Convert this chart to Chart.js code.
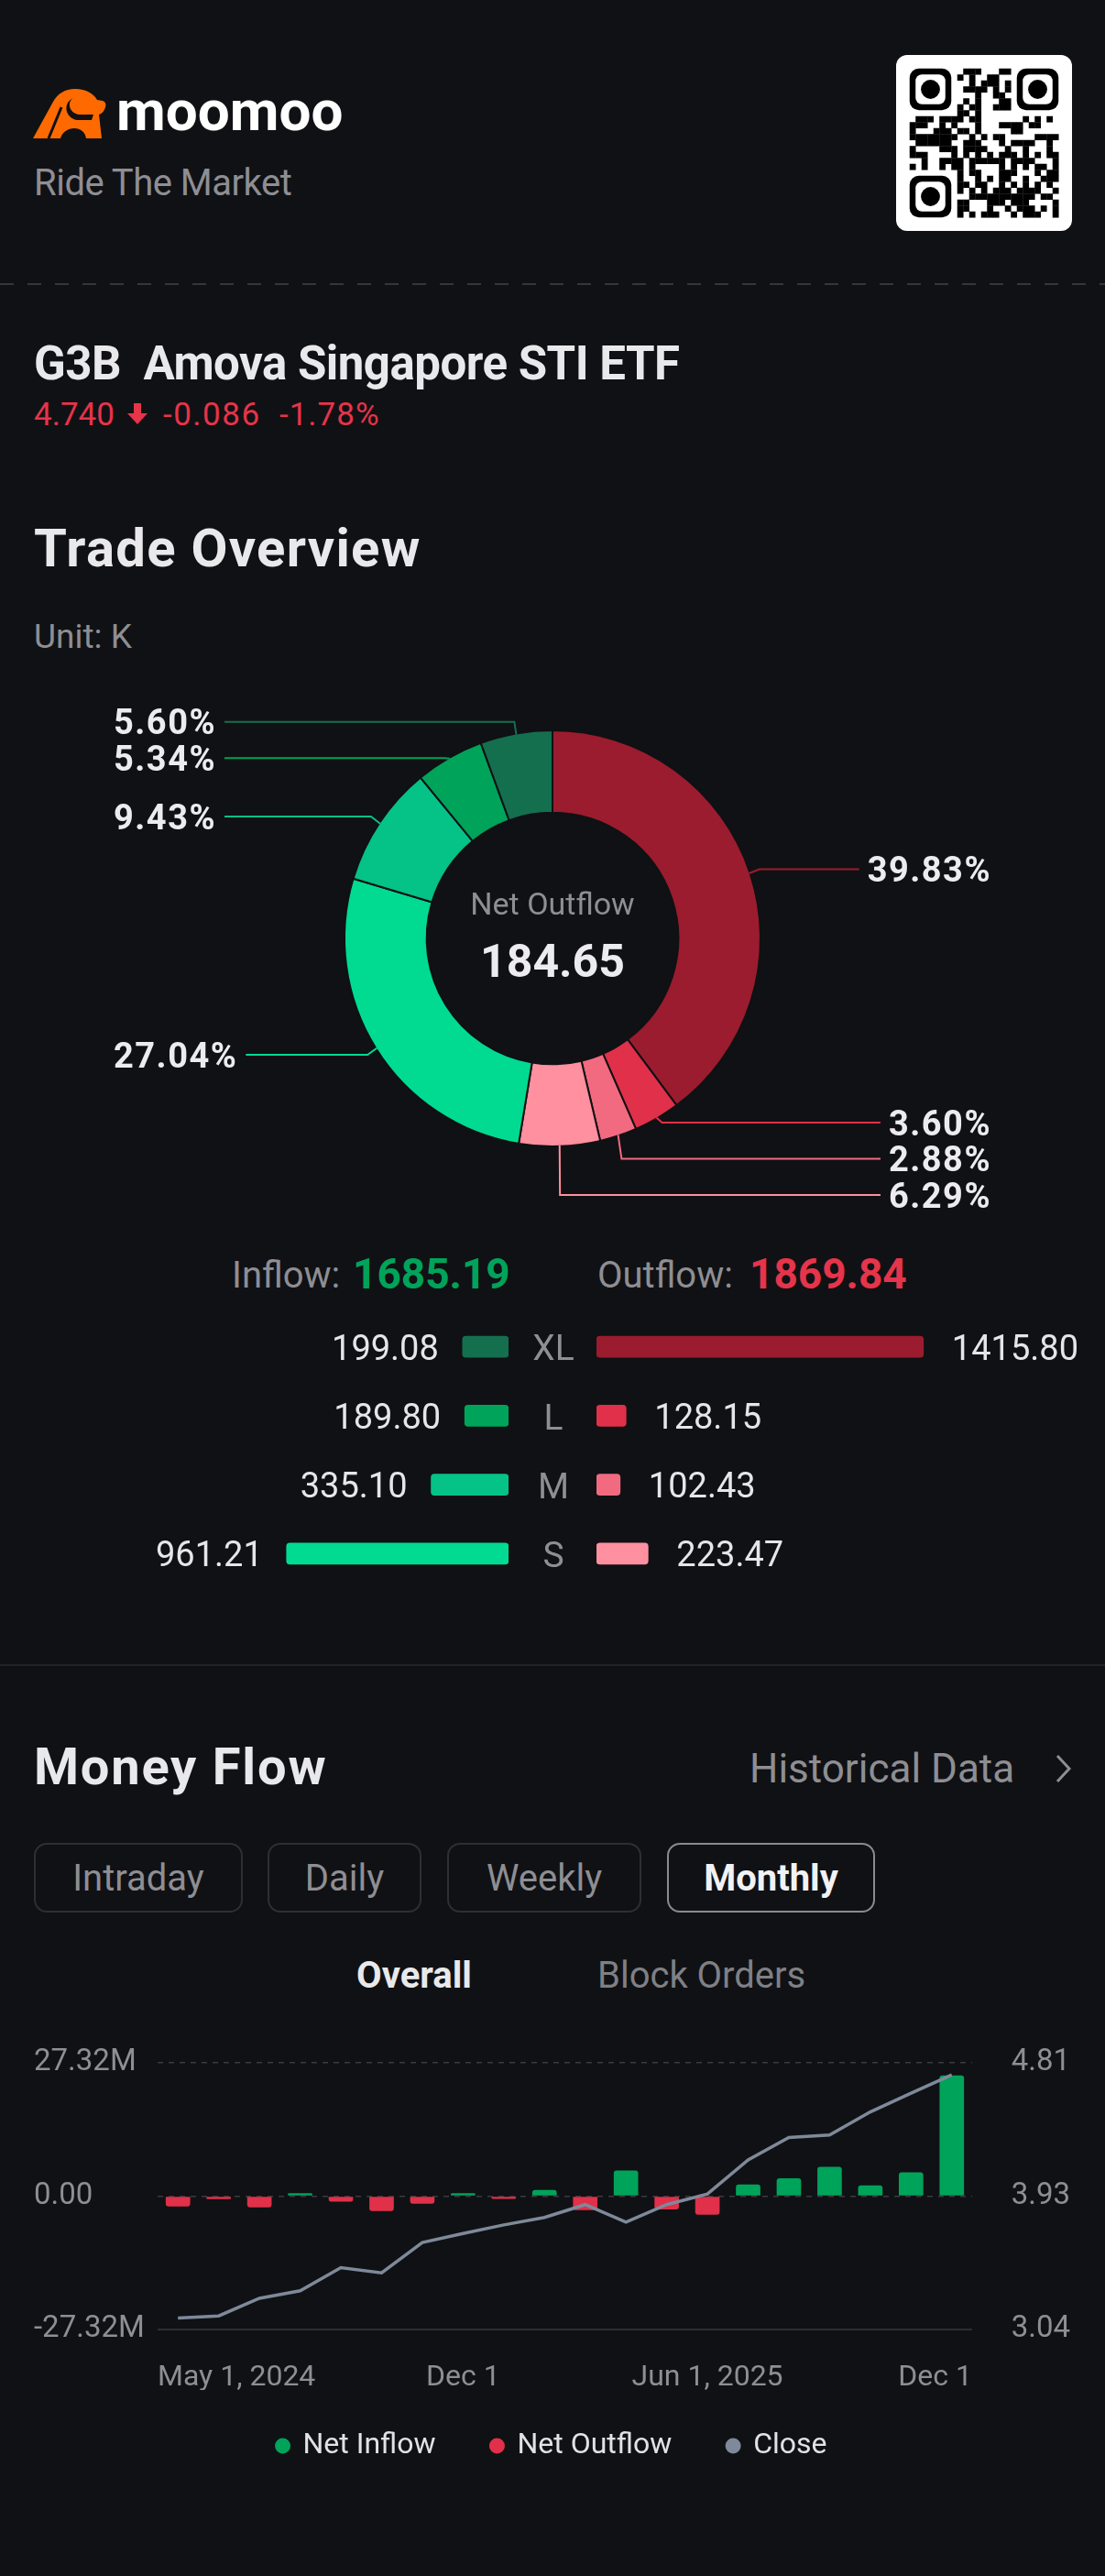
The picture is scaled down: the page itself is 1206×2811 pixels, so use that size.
<!DOCTYPE html>
<html lang="en">
<head>
<meta charset="UTF-8">
<title>G3B Trade Overview</title>
<script src="https://cdn.jsdelivr.net/npm/chart.js"></script>
<style>
  body { margin: 0; background: #101114; font-family: Roboto, Arial, sans-serif; }
  .page { position: relative; width: 1206px; height: 2811px; overflow: hidden; }
  .t { position: absolute; line-height: 1; white-space: pre; }
  .gray { color: #8e8e93; }
  .white { color: #e9e9eb; }
  .red { color: #e6344a; }
  .green { color: #00a35a; }
  .bold { font-weight: 700; }
  .dash { position: absolute; left: 0; top: 309px; width: 1206px; height: 2px;
          background: repeating-linear-gradient(90deg, #35363a 0 15px, transparent 15px 30px); }
  .rule { position: absolute; left: 0; top: 1816px; width: 1206px; height: 2px; background: #222327; }
  .tab { position: absolute; top: 2011px; height: 76px; box-sizing: border-box; border: 2px solid #2e2f33;
         border-radius: 14px; display: flex; align-items: center; justify-content: center;
         font-size: 40px; color: #8e8e93; }
  .tab.on { border-color: #8a8b90; color: #f2f2f4; font-weight: 700; }
  canvas { position: absolute; }
</style>
</head>
<body>
<div class="page">
  <!-- header -->
  <svg style="position:absolute;left:36px;top:97px" width="81" height="54" viewBox="0 0 81 54">
    <path d="M0 54 L22 14 C27 5 35 0 46 0 C58 0 66 5 70 12 L76 13 C79 14 80 17 79 20 C78 24 75 27 72 28 L75 54 L58 54 C57 47 52 43 45 43 C38 43 32 47 30 54 Z" fill="#ff6a00"/>
    <path d="M17 54 L31 20" stroke="#101114" stroke-width="3"/>
    <path d="M44 10 C37 14 39 26 50 28 L66 28 L64 34 L48 34 C35 32 32 15 44 10 Z" fill="#101114"/>
  </svg>
  <div class="t bold" style="left:127px;top:90px;font-size:62px;color:#fff">moomoo</div>
  <div class="t gray" style="left:37px;top:179.6px;font-size:40px;letter-spacing:-0.5px">Ride The Market</div>
  <canvas id="qr" width="192" height="192" style="left:978px;top:60px"></canvas>
  <div class="dash"></div>

  <div class="t white bold" style="left:37px;top:371px;font-size:51px;letter-spacing:-0.5px">G3B  Amova Singapore STI ETF</div>
  <div class="t red" style="left:37px;top:434.5px;font-size:35px">4.740</div>
  <svg style="position:absolute;left:138px;top:440px" width="24" height="24" viewBox="0 0 24 24">
    <path d="M8 0H16V11H23L12 23L1 11H8Z" fill="#e6344a"/>
  </svg>
  <div class="t red" style="left:178px;top:434.5px;font-size:35px;letter-spacing:1.5px">-0.086</div>
  <div class="t red" style="left:305px;top:434.5px;font-size:35px;letter-spacing:1px">-1.78%</div>

  <!-- trade overview -->
  <div class="t white bold" style="left:37px;top:569.2px;font-size:58px;letter-spacing:1.3px">Trade Overview</div>
  <div class="t gray" style="left:37px;top:675.8px;font-size:37px">Unit: K</div>
  <canvas id="donut" width="1206" height="600" style="left:0;top:724px"></canvas>

  <div class="t gray" style="left:253px;top:1372.3px;font-size:40px">Inflow:</div>
  <div class="t green bold" style="left:385px;top:1367.3px;font-size:46px" id="inTotal"></div>
  <div class="t gray" style="left:652px;top:1372.3px;font-size:40px">Outflow:</div>
  <div class="t red bold" style="left:818px;top:1367.3px;font-size:46px" id="outTotal"></div>

  <canvas id="inBars" width="555" height="301" style="left:0;top:1432.4px"></canvas>
  <canvas id="outBars" width="555" height="301" style="left:651px;top:1432.4px"></canvas>
  <div id="rowLabels"></div>

  <div class="rule"></div>

  <!-- money flow -->
  <div class="t white bold" style="left:37px;top:1899.5px;font-size:56px;letter-spacing:1.8px">Money Flow</div>
  <div class="t gray" style="left:818px;top:1908px;font-size:44px">Historical Data</div>
  <svg style="position:absolute;left:1150px;top:1913px" width="20" height="34" viewBox="0 0 20 34">
    <polyline points="4,3 17,17 4,31" fill="none" stroke="#8e8e93" stroke-width="3"/>
  </svg>

  <div class="tab" style="left:37px;width:228px">Intraday</div>
  <div class="tab" style="left:292px;width:168px">Daily</div>
  <div class="tab" style="left:488px;width:212px">Weekly</div>
  <div class="tab on" style="left:728px;width:227px">Monthly</div>

  <div class="t white bold" style="left:352px;width:200px;text-align:center;top:2136.3px;font-size:40px">Overall</div>
  <div class="t" style="left:652px;width:200px;text-align:center;top:2136.3px;font-size:40px;color:#7f8085">Block Orders</div>

  <canvas id="flow" width="1206" height="475" style="left:0;top:2220px"></canvas>
</div>

<script>
  // trade overview (K)
  const sizes = ['XL', 'L', 'M', 'S'];
  const inflow = [199.08, 189.80, 335.10, 961.21];
  const outflow = [1415.80, 128.15, 102.43, 223.47];
  const inflowTotal = 1685.19;
  const outflowTotal = 1869.84;
  const inflowColors = ['#146f4e', '#00a35a', '#05c287', '#00db91'];
  const outflowColors = ['#9b1c2e', '#e0304a', '#f26a80', '#ff909f'];

  // money flow, monthly
  const months = ['May 2024', 'Jun 2024', 'Jul 2024', 'Aug 2024', 'Sep 2024', 'Oct 2024', 'Nov 2024', 'Dec 2024',
                  'Jan 2025', 'Feb 2025', 'Mar 2025', 'Apr 2025', 'May 2025', 'Jun 2025', 'Jul 2025', 'Aug 2025',
                  'Sep 2025', 'Oct 2025', 'Nov 2025', 'Dec 2025'];
  const netFlow = [-2.11, -0.62, -2.29, 0.61, -1.12, -3.04, -1.55, 0.61, -0.56, 1.29,
                   -2.85, 5.25, -2.73, -3.78, 2.41, 3.64, 5.99, 2.22, 4.88, 24.73];
  const closePrice = [3.116, 3.130, 3.247, 3.297, 3.450, 3.416, 3.617, 3.677, 3.734, 3.784,
                      3.869, 3.752, 3.869, 3.939, 4.166, 4.315, 4.331, 4.484, 4.609, 4.730];
  const xTickValues = [-0.5, 7, 13, 19.5];
  const xTickLabels = ['May 1, 2024', 'Dec 1', 'Jun 1, 2025', 'Dec 1'];
  const leftTicks = [-27.32, 0, 27.32];
  const leftTickLabels = ['-27.32M', '0.00', '27.32M'];
  const rightTicks = [3.04, 3.925, 4.81];
  const rightTickLabels = ['3.04', '3.93', '4.81'];

  const BG = '#101114';
  Chart.defaults.font.family = 'Roboto, Arial, sans-serif';

  document.getElementById('inTotal').textContent = inflowTotal.toFixed(2);
  document.getElementById('outTotal').textContent = outflowTotal.toFixed(2);
  document.getElementById('rowLabels').innerHTML = sizes.map((s, i) =>
    `<div class="t gray" style="left:554px;width:100px;text-align:center;font-size:39px;top:${1452.2 + i * 75.3}px">${s}</div>`
  ).join('');

  // fake qr code, just decoration
  (function drawQr() {
    const g = document.getElementById('qr').getContext('2d');
    g.fillStyle = '#fff';
    g.beginPath(); g.roundRect(0, 0, 192, 192, 12); g.fill();
    const n = 25, s = 6.5, o = 14.75;
    const finder = (r, c) => (r < 8 && c < 8) || (r < 8 && c > 16) || (r > 16 && c < 8);
    g.fillStyle = '#000';
    for (let r = 0; r < n; r++) {
      for (let c = 0; c < n; c++) {
        if (finder(r, c)) continue;
        const h = Math.sin(r * 12.9898 + c * 78.233) * 43758.5453;
        if (h - Math.floor(h) > 0.5) g.fillRect(o + c * s, o + r * s, s + 0.3, s + 0.3);
      }
    }
    [[0, 0], [0, 18], [18, 0]].forEach(([r, c]) => {
      const x = o + c * s, y = o + r * s;
      g.fillStyle = '#000'; g.beginPath(); g.roundRect(x, y, 7 * s, 7 * s, 10); g.fill();
      g.fillStyle = '#fff'; g.beginPath(); g.roundRect(x + s, y + s, 5 * s, 5 * s, 7); g.fill();
      g.fillStyle = '#000'; g.beginPath(); g.arc(x + 3.5 * s, y + 3.5 * s, 1.6 * s, 0, Math.PI * 2); g.fill();
    });
  })();

  // ---- donut ----
  const sliceValues = outflow.concat(inflow.slice().reverse());
  const sliceColors = outflowColors.concat(inflowColors.slice().reverse());
  const grandTotal = inflowTotal + outflowTotal;

  function spread(items, gap, lo, hi) {
    items.sort((a, b) => a.y - b.y);
    for (let i = 1; i < items.length; i++) {
      if (items[i].y < items[i - 1].y + gap) items[i].y = items[i - 1].y + gap;
    }
    const n = items.length;
    if (n && items[n - 1].y > hi) {
      items[n - 1].y = hi;
      for (let i = n - 2; i >= 0; i--) {
        if (items[i].y > items[i + 1].y - gap) items[i].y = items[i + 1].y - gap;
      }
    }
    if (n && items[0].y < lo) {
      items[0].y = lo;
      for (let i = 1; i < n; i++) {
        if (items[i].y < items[i - 1].y + gap) items[i].y = items[i - 1].y + gap;
      }
    }
  }

  const leaderLabels = {
    id: 'leaderLabels',
    afterDatasetsDraw(chart, args, opts) {
      const ctx = chart.ctx;
      const arcs = chart.getDatasetMeta(0).data;
      let cx = 0, cy = 0;
      const items = arcs.map((arc, i) => {
        const p = arc.getProps(['x', 'y', 'startAngle', 'endAngle', 'outerRadius']);
        const mid = (p.startAngle + p.endAngle) / 2;
        const r = p.outerRadius - 1;
        cx = p.x; cy = p.y;
        return {
          i, mid,
          px: p.x + Math.cos(mid) * r,
          py: p.y + Math.sin(mid) * r,
          y: p.y + Math.sin(mid) * (r + opts.reach),
          right: Math.cos(mid) >= 0,
          text: (sliceValues[i] / grandTotal * 100).toFixed(2) + '%'
        };
      });
      const right = items.filter(it => it.right), left = items.filter(it => !it.right);
      spread(right, opts.gap, cy - opts.limit, cy + opts.limit);
      spread(left, opts.gap, cy - opts.limit, cy + opts.limit);

      ctx.save();
      ctx.font = 'bold 38px Roboto, Arial, sans-serif';
      ctx.letterSpacing = '1.5px';
      ctx.lineWidth = 2;
      items.forEach(it => {
        const w = ctx.measureText(it.text).width;
        const sign = it.right ? 1 : -1;
        const ex = it.px + sign * opts.elbow * Math.abs(Math.cos(it.mid));
        const endX = it.right ? opts.rightX - w - opts.textGap : opts.leftX + w + opts.textGap;
        ctx.strokeStyle = sliceColors[it.i];
        ctx.beginPath();
        ctx.moveTo(it.px, it.py);
        ctx.lineTo(ex, it.y);
        ctx.lineTo(endX, it.y);
        ctx.stroke();
        ctx.fillStyle = '#ececee';
        ctx.textAlign = it.right ? 'right' : 'left';
        ctx.textBaseline = 'alphabetic';
        ctx.fillText(it.text, it.right ? opts.rightX : opts.leftX, it.y + 13.5);
      });
      ctx.letterSpacing = '0px';

      // centre text
      ctx.textAlign = 'center';
      ctx.fillStyle = '#8e8e93';
      ctx.font = '34px Roboto, Arial, sans-serif';
      ctx.fillText('Net Outflow', cx, cy - 26);
      ctx.fillStyle = '#ececee';
      ctx.font = 'bold 50px Roboto, Arial, sans-serif';
      ctx.fillText((outflowTotal - inflowTotal).toFixed(2), cx, cy + 42);
      ctx.restore();
    }
  };

  new Chart(document.getElementById('donut'), {
    type: 'doughnut',
    data: {
      labels: sizes.map(s => s + ' out').concat(sizes.slice().reverse().map(s => s + ' in')),
      datasets: [{ data: sliceValues, backgroundColor: sliceColors, borderColor: BG, borderWidth: 2 }]
    },
    options: {
      responsive: false,
      animation: false,
      devicePixelRatio: 1,
      radius: 227,
      cutout: '60.5%',
      layout: { padding: { left: 377, right: 377, top: 74, bottom: 74 } },
      plugins: {
        legend: { display: false },
        tooltip: { enabled: false },
        leaderLabels: { reach: 14, gap: 39.5, limit: 280, rightX: 1082, leftX: 124, textGap: 9, elbow: 12 }
      }
    },
    plugins: [leaderLabels]
  });

  // ---- inflow / outflow bars ----
  const barAxisMax = 2202;
  const valueLabels = {
    id: 'valueLabels',
    afterDatasetsDraw(chart) {
      const ctx = chart.ctx;
      const rev = chart.options.scales.x.reverse;
      const vals = chart.data.datasets[0].data;
      ctx.save();
      ctx.font = '38px Roboto, Arial, sans-serif';
      ctx.fillStyle = '#e6e6e8';
      ctx.textBaseline = 'alphabetic';
      chart.getDatasetMeta(0).data.forEach((bar, i) => {
        ctx.textAlign = rev ? 'right' : 'left';
        ctx.fillText(vals[i].toFixed(2), rev ? bar.x - 26 : bar.x + 31, bar.y + 14);
      });
      ctx.restore();
    }
  };

  function sideBars(id, values, colors, reverse) {
    new Chart(document.getElementById(id), {
      type: 'bar',
      data: {
        labels: sizes,
        datasets: [{ data: values, backgroundColor: colors, barThickness: 23, borderRadius: 4, borderSkipped: false }]
      },
      options: {
        indexAxis: 'y',
        responsive: false,
        animation: false,
        devicePixelRatio: 1,
        layout: { padding: 0 },
        plugins: { legend: { display: false }, tooltip: { enabled: false } },
        scales: {
          x: { display: false, min: 0, max: barAxisMax, reverse: reverse },
          y: { display: false }
        }
      },
      plugins: [valueLabels]
    });
  }
  sideBars('inBars', inflow, inflowColors, true);
  sideBars('outBars', outflow, outflowColors, false);

  // ---- money flow chart ----
  const isBottom = c => c.tick && c.tick.value === leftTicks[0];

  new Chart(document.getElementById('flow'), {
    type: 'bar',
    data: {
      labels: months,
      datasets: [
        { label: 'Net Inflow', data: netFlow.map(v => v > 0 ? v : null), backgroundColor: '#00a35a',
          grouped: false, barPercentage: 0.6, categoryPercentage: 1, borderRadius: 3, yAxisID: 'y', order: 2 },
        { label: 'Net Outflow', data: netFlow.map(v => v < 0 ? v : null), backgroundColor: '#e0304a',
          grouped: false, barPercentage: 0.6, categoryPercentage: 1, borderRadius: 3, yAxisID: 'y', order: 1 },
        { type: 'line', label: 'Close', data: closePrice, borderColor: '#7e899a', backgroundColor: '#7e899a',
          borderWidth: 3.5, pointRadius: 0, tension: 0, yAxisID: 'y1', order: 0 }
      ]
    },
    options: {
      responsive: false,
      animation: false,
      devicePixelRatio: 1,
      layout: { padding: { left: 37, right: 38, top: 31, bottom: 0 } },
      plugins: {
        tooltip: { enabled: false },
        legend: {
          position: 'bottom',
          labels: {
            usePointStyle: true,
            pointStyle: 'circle',
            boxWidth: 12,
            boxHeight: 12,
            padding: 45,
            color: '#e2e2e4',
            font: { size: 32 },
            generateLabels(chart) {
              return Chart.defaults.plugins.legend.labels.generateLabels(chart)
                .sort((a, b) => a.datasetIndex - b.datasetIndex)
                .map((l, i, all) => Object.assign(l, {
                  lineWidth: 0, pointStyle: 'circle', strokeStyle: l.fillStyle,
                  text: i < all.length - 1 ? l.text + '  ' : l.text
                }));
            }
          }
        }
      },
      scales: {
        x: { display: false },
        xl: {
          type: 'linear',
          position: 'bottom',
          offset: false,
          min: -0.5,
          max: 19.5,
          grid: { display: false, offset: false },
          border: { display: false },
          afterBuildTicks: s => { s.ticks = xTickValues.map(v => ({ value: v })); },
          afterFit: s => { s.height = 66; },
          ticks: {
            autoSkip: false,
            maxRotation: 0,
            align: 'inner',
            padding: 26,
            color: '#8e8e93',
            font: { size: 32 },
            callback: (v, i) => xTickLabels[i]
          }
        },
        y: {
          position: 'left',
          min: leftTicks[0],
          max: leftTicks[2],
          afterBuildTicks: s => { s.ticks = leftTicks.map(v => ({ value: v })); },
          afterFit: s => { s.width = 135; },
          grid: {
            drawTicks: false,
            color: c => isBottom(c) ? '#2d2e32' : '#3a3b40',
            lineWidth: c => isBottom(c) ? 2 : 1.5,
            borderDash: c => isBottom(c) ? [] : [6, 6]
          },
          border: { display: false, dash: c => isBottom(c) || !c.tick ? [] : [6, 6] },
          ticks: {
            crossAlign: 'far',
            color: '#8e8e93',
            font: { size: 33 },
            callback: (v, i) => leftTickLabels[i]
          }
        },
        y1: {
          position: 'right',
          min: rightTicks[0],
          max: rightTicks[2],
          afterBuildTicks: s => { s.ticks = rightTicks.map(v => ({ value: v })); },
          afterFit: s => { s.width = 107; },
          grid: { display: false },
          border: { display: false },
          ticks: {
            crossAlign: 'far',
            color: '#8e8e93',
            font: { size: 33 },
            callback: (v, i) => rightTickLabels[i]
          }
        }
      }
    }
  });
</script>
</body>
</html>
